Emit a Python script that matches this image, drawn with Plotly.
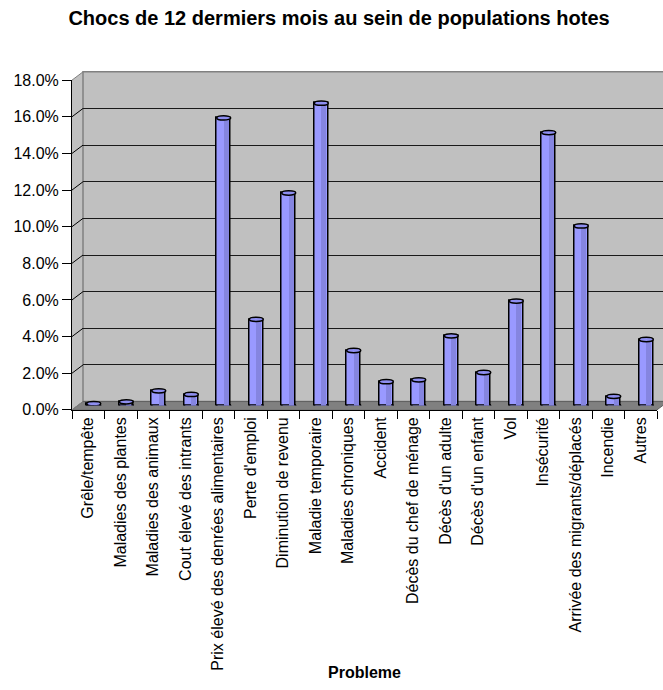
import plotly.graph_objects as go

# ---------------- data ----------------
categories = [
    "Grêle/tempête", "Maladies des plantes", "Maladies des animaux",
    "Cout élevé des intrants", "Prix élevé des denrées alimentaires",
    "Perte d'emploi", "Diminution de revenu", "Maladie temporaire",
    "Maladies chroniques", "Accident", "Décès du chef de ménage",
    "Décès d'un adulte", "Décès d'un enfant", "Vol", "Insécurité",
    "Arrivée des migrants/déplacés", "Incendie", "Autres",
]
values = [0.1, 0.2, 0.8, 0.6, 15.7, 4.7, 11.6, 16.5, 3.0, 1.3, 1.4,
          3.8, 1.8, 5.7, 14.9, 9.8, 0.5, 3.6]  # percent
y_max = 18
y_step = 2
title_text = "Chocs de 12 dermiers mois au sein de populations hotes"
x_title = "Probleme"

# ---------------- geometry (pixels) ----------------
W, H = 663, 690
FONT = "Liberation Sans, Arial, sans-serif"
XF0, XF1 = 72, 657          # front x-axis extent
YF0 = 412                   # front 0 %
S = 18.78                   # px per 1 %
DXB, DYB = 5.5, 4.5         # bar plane offset
DXW, DYW = 11, 8.5          # back wall offset


def fx(px):
    return px / W


def fy(py):
    return 1 - py / H


YF18 = YF0 - y_max * S

fig = go.Figure()

n = len(categories)
bar_w = 0.43

fig.add_trace(go.Bar(
    x=categories, y=values, width=bar_w,
    marker=dict(color="#9999ff", line=dict(color="black", width=1.5)),
    xaxis="x3", yaxis="y3", showlegend=False, hoverinfo="x+y",
))
fig.add_trace(go.Bar(
    x=categories, y=values, width=0.15, offset=-0.01,
    marker=dict(color="#8585e0", line=dict(width=0)),
    xaxis="x3", yaxis="y3", showlegend=False, hoverinfo="skip",
))
fig.add_trace(go.Scatter(
    x=categories, y=[None] * n, mode="markers",
    xaxis="x2", yaxis="y2", showlegend=False, hoverinfo="skip",
))
fig.add_trace(go.Scatter(
    x=[0, 1], y=[None, None], mode="markers",
    xaxis="x", yaxis="y", showlegend=False, hoverinfo="skip",
))

shapes = []
# side wall
shapes.append(dict(
    type="path", xref="paper", yref="paper", layer="below",
    path=(f"M {fx(XF0)},{fy(YF18)} L {fx(XF0 + DXW)},{fy(YF18 - DYW)} "
          f"L {fx(XF0 + DXW)},{fy(YF0 - DYW)} L {fx(XF0)},{fy(YF0)} Z"),
    fillcolor="#c0c0c0", line=dict(width=0),
))
# back wall
shapes.append(dict(
    type="rect", xref="paper", yref="paper", layer="below",
    x0=fx(XF0 + DXW), x1=1.01, y0=fy(YF0 - DYW), y1=fy(YF18 - DYW),
    fillcolor="#c0c0c0", line=dict(color="#808080", width=1.5),
))
# floor
shapes.append(dict(
    type="path", xref="paper", yref="paper", layer="below",
    path=(f"M {fx(XF0)},{fy(YF0)} L {fx(XF1)},{fy(YF0)} "
          f"L {fx(XF1 + DXW)},{fy(YF0 - DYW)} L {fx(XF0 + DXW)},{fy(YF0 - DYW)} Z"),
    fillcolor="#808080", line=dict(color="#606060", width=1),
))
# side-wall gridlines
for k in range(0, y_max // y_step + 1):
    v = k * y_step
    col = "#808080" if v in (0, y_max) else "black"
    shapes.append(dict(
        type="line", xref="paper", yref="paper", layer="below",
        x0=fx(XF0), y0=fy(YF0 - v * S),
        x1=fx(XF0 + DXW), y1=fy(YF0 - v * S - DYW),
        line=dict(color=col, width=1),
    ))
# cylinder caps (top ellipses) and bases
e = 2.2 / S
for i, v in enumerate(values):
    shapes.append(dict(
        type="circle", xref="x3", yref="y3", layer="below",
        x0=i - bar_w / 2, x1=i + bar_w / 2, y0=-e, y1=e,
        fillcolor="#9999ff", line=dict(color="black", width=1.5),
    ))
    shapes.append(dict(
        type="circle", xref="x3", yref="y3", layer="above",
        x0=i - bar_w / 2, x1=i + bar_w / 2, y0=v - e, y1=v + e,
        fillcolor="#8e8ef0", line=dict(color="black", width=1.5),
    ))

annotations = [dict(
    text=f"<b>{x_title}</b>", xref="paper", yref="paper",
    x=fx((XF0 + XF1) / 2), y=0, xanchor="center", yanchor="bottom",
    yshift=-2,
    showarrow=False, font=dict(family=FONT, size=16, color="black"),
)]

fig.update_layout(
    width=W, height=H,
    margin=dict(l=0, r=0, t=0, b=0),
    paper_bgcolor="white", plot_bgcolor="rgba(0,0,0,0)",
    barmode="overlay", bargap=0,
    showlegend=False,
    title=dict(text=f"<b>{title_text}</b>", x=fx(339), xanchor="center",
               y=fy(18), yanchor="middle",
               font=dict(family=FONT, size=20, color="black")),
    font=dict(family=FONT, size=16, color="black"),
    shapes=shapes, annotations=annotations,
    xaxis=dict(domain=[fx(XF0 + DXW), 1], range=[0, 1], visible=False,
               fixedrange=True),
    yaxis=dict(domain=[fy(YF0 - DYW), fy(YF18 - DYW)], range=[0, y_max],
               anchor="x", showgrid=True, gridcolor="#1a1a1a", gridwidth=1,
               tickvals=list(range(y_step, y_max, y_step)),
               showticklabels=False, ticks="", showline=False,
               zeroline=False, fixedrange=True),
    xaxis2=dict(domain=[fx(XF0), fx(XF1)], anchor="y2", type="category",
                categoryorder="array", categoryarray=categories,
                range=[-0.5, n - 0.5], tickson="boundaries",
                ticks="outside", ticklen=8, tickcolor="black", tickwidth=1,
                showline=True, linecolor="black", linewidth=1,
                showgrid=False, zeroline=False, tickangle=-90,
                tickfont=dict(family=FONT, size=16, color="black"),
                fixedrange=True),
    yaxis2=dict(domain=[fy(YF0), fy(YF18)], anchor="x2", range=[0, y_max],
                dtick=y_step, tick0=0, tickformat=".1f", ticksuffix="%",
                ticks="outside", ticklen=9, tickcolor="black", tickwidth=1,
                showline=True, linecolor="black", linewidth=1,
                showgrid=False, zeroline=False,
                tickfont=dict(family=FONT, size=16, color="black"),
                fixedrange=True),
    xaxis3=dict(domain=[fx(XF0 + DXB), fx(XF1 + DXB)], anchor="y3",
                type="category", categoryorder="array",
                categoryarray=categories, range=[-0.5, n - 0.5],
                visible=False, fixedrange=True),
    yaxis3=dict(domain=[fy(YF0 - DYB), fy(YF18 - DYB)], anchor="x3",
                range=[0, y_max], visible=False, fixedrange=True),
)

fig.write_html("out.html")
